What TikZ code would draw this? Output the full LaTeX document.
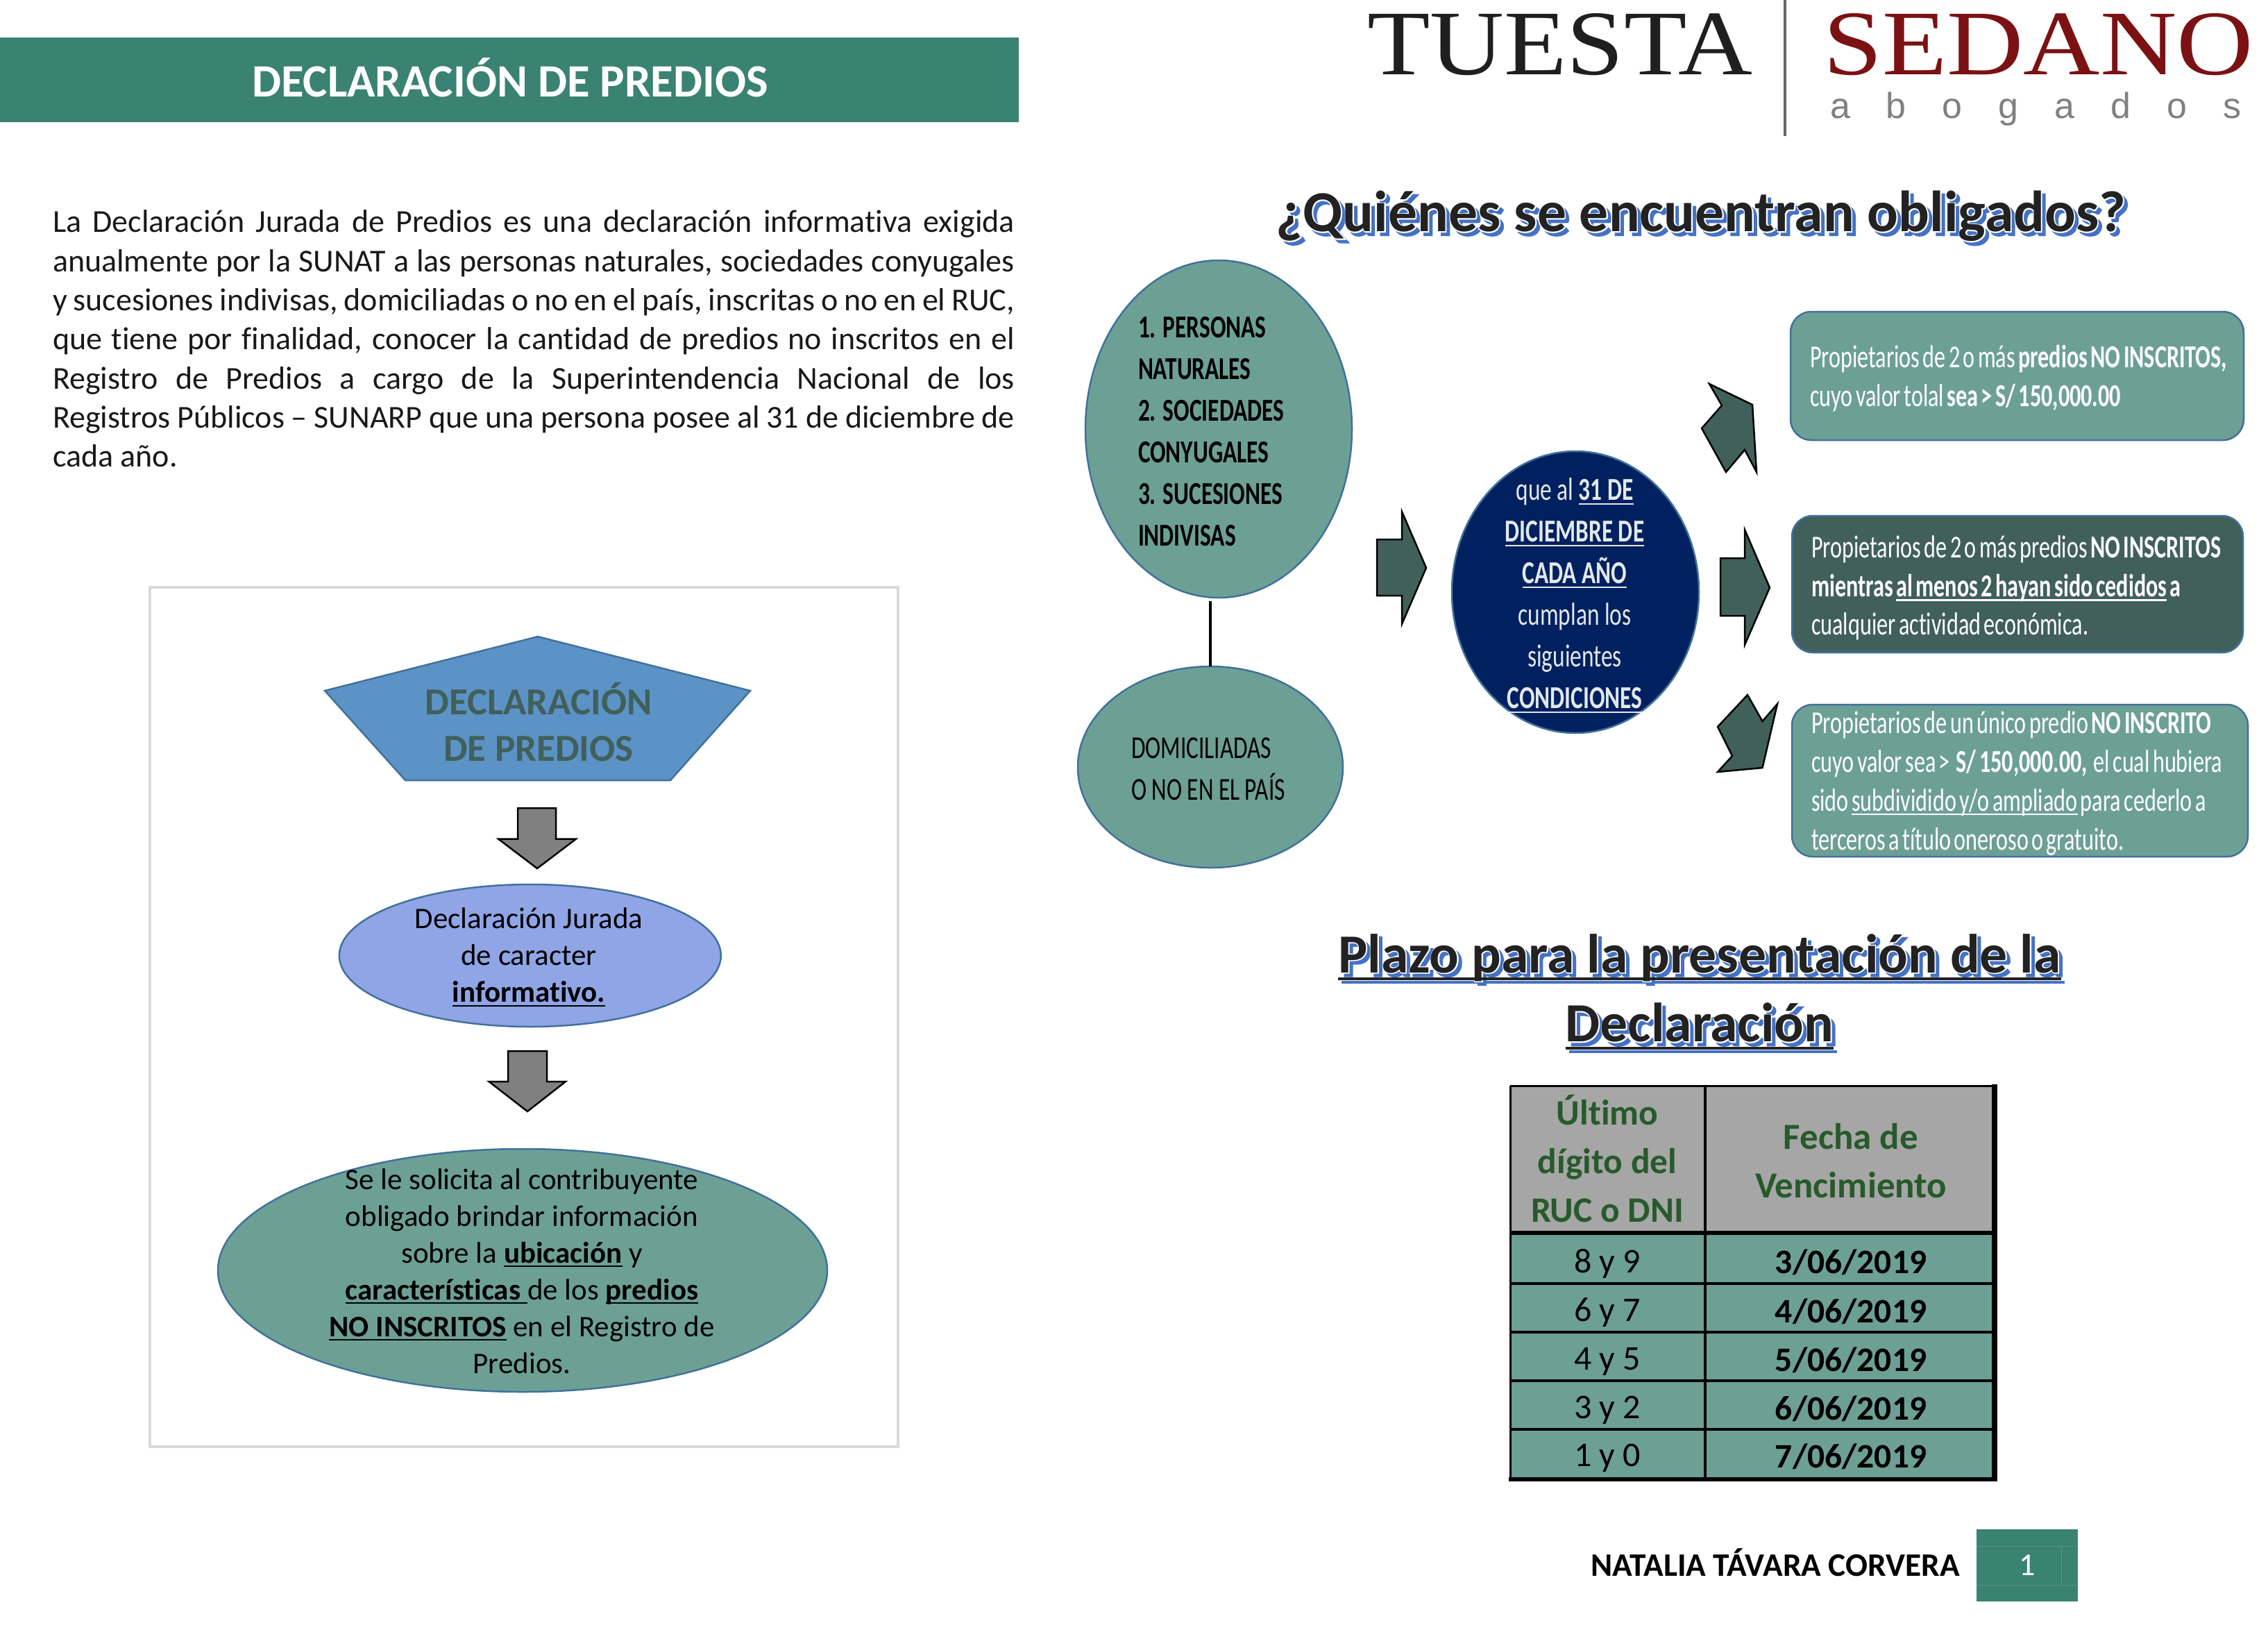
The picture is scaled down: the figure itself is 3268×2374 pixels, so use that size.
\documentclass[tikz,border=0pt]{standalone}
\usepackage{fontspec}
\setmainfont[Ligatures=NoCommon]{Carlito}
\newfontfamily\condA[FakeStretch=0.725,Ligatures=NoCommon]{Carlito}
\newfontfamily\condB[FakeStretch=0.70,WordSpace=0.6,Ligatures=NoCommon]{Carlito}
\newfontfamily\logoA[FakeStretch=1.113]{Liberation Serif}
\newfontfamily\logoB[FakeStretch=1.15]{Liberation Serif}
\newfontfamily\logoC[LetterSpace=100]{Liberation Sans}
\newfontfamily\halofont[FakeBold=3.5,Ligatures=NoCommon]{Carlito Bold}
\newsavebox\ulbox
\newcommand\uline[1]{\sbox\ulbox{#1}\leavevmode\rlap{\rule[-0.14em]{\wd\ulbox}{0.055em}}\usebox\ulbox}
\definecolor{teal1}{HTML}{6DA095}
\definecolor{hdr}{HTML}{3A8272}
\definecolor{outl}{HTML}{41719C}
\definecolor{dark}{HTML}{41605A}
\definecolor{navy1}{HTML}{00205F}
\definecolor{lav}{HTML}{8FA5E6}
\definecolor{penta}{HTML}{5B93C7}
\definecolor{wine}{HTML}{7B1113}
\definecolor{hgreen}{HTML}{275A2B}
\definecolor{hgray}{HTML}{A6A6A6}
\definecolor{shad}{HTML}{4472C4}
\definecolor{pale}{HTML}{E2E8EA}
\definecolor{ink}{HTML}{222222}
\newcommand\fxtext[1]{\leavevmode\rlap{\kern5pt\raisebox{-5pt}{\color{shad}\mdseries\halofont #1}}\rlap{\color{white}\mdseries\halofont #1}{\color{ink}#1}}
\usetikzlibrary{shapes.geometric}
\tikzset{
  x=1pt,y=-1pt,
  every node/.style={inner sep=0pt,outer sep=0pt},
  ell/.style={ellipse,draw=outl,line width=2.5pt},
  rbox/.style={draw=outl,line width=2.5pt,rounded corners=30pt},
  gray arrow/.style={draw=black,line width=2.5pt,fill=gray,line join=miter},
  dark arrow/.style={draw=black,line width=2.5pt,fill=dark,line join=miter},
  ltxt/.style={anchor=west,align=left},
  ctxt/.style={align=center},
  rowa/.style={font=\fontsize{50}{58}\selectfont},
  rowb/.style={font=\fontsize{49.5}{58}\selectfont\bfseries},
  hcell/.style={align=center,text=hgreen,font=\fontsize{51.5}{70}\selectfont\bfseries},
  hcellb/.style={align=center,text=hgreen,font=\fontsize{53}{70}\selectfont\bfseries},
  ttlA/.style={font=\fontsize{83.6}{100}\selectfont\bfseries},
  ttlB/.style={font=\fontsize{79.6}{100}\selectfont\bfseries},
}
\begin{document}
\begin{tikzpicture}
\useasboundingbox[fill=white] (0,0) rectangle (3268,2374);
% header
\node[fill=hdr,minimum width=1468pt,minimum height=122pt,anchor=north west] (hdrbar) at (0,54) {};
\node[text=white,font=\fontsize{66.7}{80}\selectfont\bfseries] (hdrtxt) at (735,112) {DECLARACIÓN DE PREDIOS};
% paragraph
\node[anchor=north west,text width=1386pt,align=justify,font=\fontsize{46}{56.3}\selectfont,text=black!90] (para) at (76,303) {La Declaración Jurada de Predios es una declaración informativa exigida\linebreak anualmente por la SUNAT a las personas naturales, sociedades conyugales\linebreak y sucesiones indivisas, domiciliadas o no en el país, inscritas o no en el RUC,\linebreak que tiene por finalidad, conocer la cantidad de predios no inscritos en el\linebreak Registro de Predios a cargo de la Superintendencia Nacional de los\linebreak Registros Públicos – SUNARP que una persona posee al 31 de diciembre de\linebreak cada año.};
% left frame
\draw[draw=black!15,line width=4pt] (216,846) rectangle (1294,2084);
\draw[draw=outl,line width=2.5pt,fill=penta] (775,917) -- (1081,995) -- (966,1124) -- (584,1124) -- (468,995) -- cycle;
\node[ctxt,text=dark,font=\fontsize{55}{66.7}\selectfont\bfseries] (pentatxt) at (776,1040) {DECLARACIÓN\\DE PREDIOS};
\draw[gray arrow] (746,1164) -- (801,1164) -- (801,1208.5) -- (830,1208.5) -- (774,1251) -- (718,1208.5) -- (746,1208.5) -- cycle;
\node[ell,fill=lav,minimum width=550pt,minimum height=205pt] (decl) at (763.8,1376.5) {};
\node[ctxt,font=\fontsize{43}{53}\selectfont] (decltxt) at (762,1379) {Declaración Jurada\\de caracter\\\textbf{\uline{informativo.}}};
\draw[gray arrow] (732,1514) -- (788,1514) -- (788,1558) -- (815,1558) -- (760,1601) -- (704.5,1558) -- (732,1558) -- cycle;
\node[ell,fill=teal1,minimum width=878pt,minimum height=350pt] (soli) at (753,1830) {};
\node[ctxt,font=\fontsize{43}{53}\selectfont] (solitxt) at (752,1831) {Se le solicita al contribuyente\\obligado brindar información\\sobre la \textbf{\uline{ubicación}} y\\\textbf{\uline{características }}de los \textbf{\uline{predios}}\\\textbf{\uline{NO INSCRITOS}} en el Registro de\\Predios.};
% logo
\node[anchor=west,text=black!88,font=\logoA\fontsize{133}{133}\selectfont] (tuesta) at (1970,64) {TUESTA};
\node[anchor=west,text=wine,font=\logoB\fontsize{133}{133}\selectfont] (sedano) at (2627,64) {SEDANO};
\node[anchor=west,text=black!50,font=\logoC\fontsize{52}{52}\selectfont] (abog) at (2637,157) {abogados};
\draw[black!60,line width=4pt] (2572,0) -- (2572,196);
% title
\node[ttlA] (ttlmain) at (2451,314) {\fxtext{¿Quiénes se encuentran obligados?}};
% ellipses
\node[ell,fill=teal1,minimum width=384pt,minimum height=486pt] (pers) at (1756,618) {};
\node[ltxt,font=\condA\fontsize{46}{60}\selectfont\bfseries] (perstxt) at (1640,622) {1. PERSONAS\\NATURALES\\2. SOCIEDADES\\CONYUGALES\\3. SUCESIONES\\INDIVISAS};
\node[ell,fill=teal1,minimum width=382pt,minimum height=290pt] (dom) at (1744,1105) {};
\node[ltxt,font=\condA\fontsize{46}{60}\selectfont] (domtxt) at (1630,1108) {DOMICILIADAS\\O NO EN EL PAÍS};
\draw[black,line width=4pt,shorten >=5pt] (dom.north) -- (dom.north |- pers.south);
\draw[dark arrow] (1984,777) -- (2020,777) -- (2020,737) -- (2055,818) -- (2020,899) -- (2020,858) -- (1984,858) -- cycle;
\node[ell,fill=navy1,minimum width=356pt,minimum height=406pt] (navy) at (2270,853) {};
\node[ctxt,text=pale,font=\condA\fontsize{46}{60}\selectfont] (navytxt) at (2269,858) {que al \textbf{\uline{31 DE}}\\\textbf{\uline{DICIEMBRE DE}}\\\textbf{\uline{CADA AÑO}}\\cumplan los\\siguientes\\\textbf{\uline{CONDICIONES}}};
% diag arrows
\draw[dark arrow] (2463,553) -- (2525,583) -- (2531,680) -- (2514,648) -- (2487,680) -- (2452,617) -- (2481,584) -- cycle;
\draw[dark arrow] (2479,804) -- (2514,804) -- (2514,763) -- (2550,846.5) -- (2514,929) -- (2514,887) -- (2479,887) -- cycle;
\draw[dark arrow] (2518,1001) -- (2539.5,1039) -- (2561,1014) -- (2539.5,1106) -- (2475,1112) -- (2496,1089) -- (2475,1047) -- cycle;
% boxes
\draw[rbox,fill=teal1] (2580,449) rectangle (3233,634);
\node[ltxt,text=white,font=\condB\fontsize{46}{56}\selectfont] (b1) at (2608,545) {Propietarios de 2 o más \textbf{predios NO INSCRITOS,}\\cuyo valor tolal \textbf{sea > S/ 150,000.00}};
\draw[rbox,fill=dark] (2582,743) rectangle (3232,940);
\node[ltxt,text=white,font=\condB\fontsize{46}{55.5}\selectfont] (b2) at (2610,847) {Propietarios de 2 o más predios \textbf{NO INSCRITOS}\\\textbf{mientras \uline{al menos 2 hayan sido cedidos} a}\\cualquier actividad económica.};
\draw[rbox,fill=teal1] (2582,1015) rectangle (3239,1234);
\node[ltxt,text=white,font=\condB\fontsize{46}{56}\selectfont] (b3) at (2610,1128) {Propietarios de un único predio \textbf{NO INSCRITO}\\cuyo valor sea > \ \textbf{S/ 150,000.00,} \ el cual hubiera\\sido \uline{subdividido y/o ampliado} para cederlo a\\terceros a título oneroso o gratuito.};
% subtitle
\node[ttlB] (submain) at (2449,1382) {\fxtext{\uline{Plazo para la presentación de la}}};
\node[ttlB] (sub2main) at (2449,1481) {\fxtext{\uline{Declaración}}};
% table
\fill[hgray] (2176,1564) rectangle (2872,1776);
\fill[teal1] (2176,1776) rectangle (2872,2131);
\draw[black,line width=6pt] (2176,1776) -- (2875,1776);
\draw[black,line width=4pt] (2176,1849) -- (2875,1849) (2176,1919) -- (2875,1919) (2176,1989) -- (2875,1989) (2176,2059) -- (2875,2059);
\draw[black,line width=4pt] (2457,1564) -- (2457,2131);
\draw[black,line width=3pt] (2176,1564) -- (2876,1564);
\draw[black,line width=3pt] (2176,1564) -- (2176,2133);
\draw[black,line width=8pt] (2874,1562) -- (2874,2134);
\draw[black,line width=6pt] (2174,2131) -- (2877,2131);
\node[hcell] (h1) at (2316,1669) {Último\\dígito del\\RUC o DNI};
\node[hcellb] (h2) at (2667,1672) {Fecha de\\Vencimiento};
\node[rowa] (a1) at (2316,1820) {8 y 9};
\node[rowb] (c1) at (2667,1818) {3/06/2019};
\node[rowa] (a2) at (2316,1891) {6 y 7};
\node[rowb] (c2) at (2667,1889) {4/06/2019};
\node[rowa] (a3) at (2316,1961) {4 y 5};
\node[rowb] (c3) at (2667,1959) {5/06/2019};
\node[rowa] (a4) at (2316,2031) {3 y 2};
\node[rowb] (c4) at (2667,2029) {6/06/2019};
\node[rowa] (a5) at (2316,2100) {1 y 0};
\node[rowb] (c5) at (2667,2098) {7/06/2019};
% footer
\node[anchor=east,font=\fontsize{47.3}{56}\selectfont\bfseries] (name) at (2824,2251) {NATALIA TÁVARA CORVERA};
\node[fill=hdr,minimum width=146pt,minimum height=104pt,anchor=north west] (pg) at (2848,2203) {};
\draw[hdr!85!white,line width=1pt] (2848,2227) -- (2994,2227) (2848,2283) -- (2994,2283) (2970,2227) -- (2970,2283);
\node[text=white,font=\fontsize{46}{56}\selectfont] (pgn) at (2921,2255) {1};
\end{tikzpicture}
\end{document}
